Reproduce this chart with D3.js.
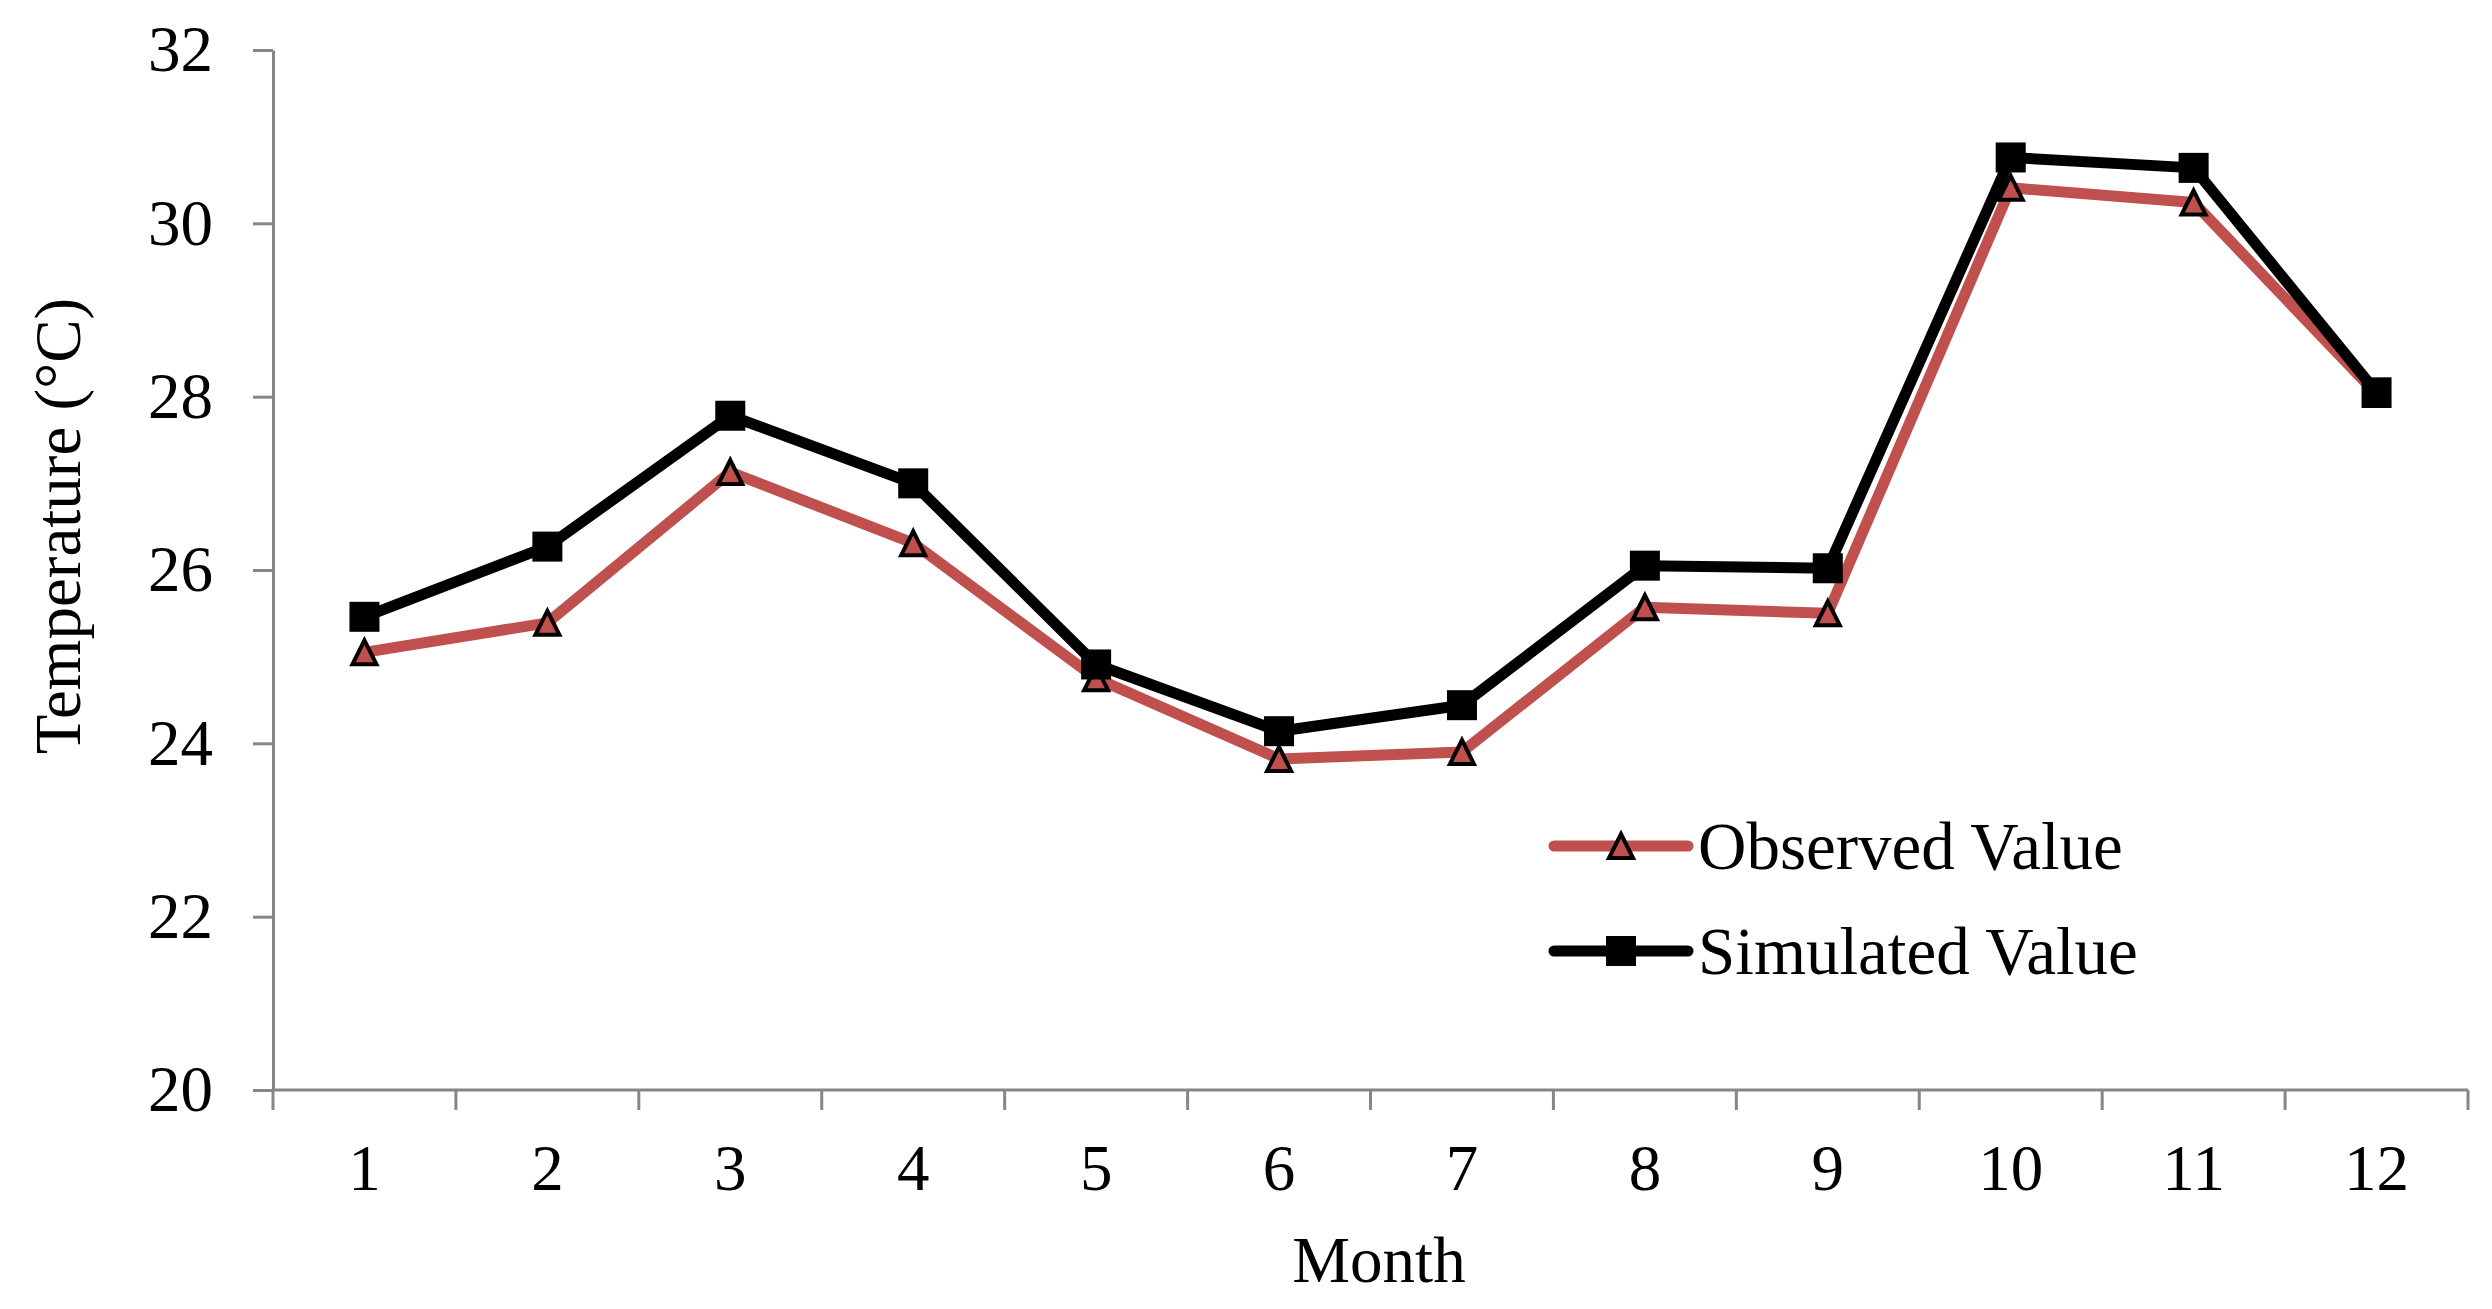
<!DOCTYPE html>
<html>
<head>
<meta charset="utf-8">
<script src="https://cdn.jsdelivr.net/npm/d3@7"></script>
<style>
  body { margin: 0; background: #fff; }
  text { font-family: "Liberation Serif", "Times New Roman", serif; fill: #000; }
</style>
</head>
<body>
<script>
var months = ["1","2","3","4","5","6","7","8","9","10","11","12"];
var observed  = [25.05, 25.39, 27.13, 26.31, 24.75, 23.82, 23.9, 25.57, 25.5, 30.41, 30.24, 28.03];
var simulated = [25.46, 26.27, 27.78, 27.0, 24.91, 24.14, 24.44, 26.05, 26.02, 30.76, 30.64, 28.05];
var yTicks = [20, 22, 24, 26, 28, 30, 32];
var seriesNames = ["Observed Value", "Simulated Value"];

var width = 2492, height = 1309;
var axisColor = "#868686";
var red = "#C0504D";

var svg = d3.select("body").append("svg")
    .attr("width", width)
    .attr("height", height);

var x = d3.scaleBand().domain(months).range([273, 2468]);
var y = d3.scaleLinear().domain([20, 32]).range([1090, 50]);

// y axis
var yAxis = svg.append("g")
    .attr("transform", "translate(273,0)")
    .call(d3.axisLeft(y).tickValues(yTicks).tickSize(20).tickSizeOuter(0).tickPadding(40));
yAxis.selectAll("path, line").attr("stroke", axisColor).attr("stroke-width", 3);
yAxis.selectAll("text").attr("font-size", 65).attr("font-family", "Liberation Serif");

// x axis labels
var xAxis = svg.append("g")
    .attr("transform", "translate(0,1090)")
    .call(d3.axisBottom(x).tickSize(0).tickPadding(54));
xAxis.select(".domain").remove();
xAxis.selectAll("text").attr("font-size", 65).attr("font-family", "Liberation Serif");

// x axis line and tick marks at band edges
svg.append("line")
    .attr("x1", x.range()[0]).attr("x2", x.range()[1])
    .attr("y1", y(20)).attr("y2", y(20))
    .attr("stroke", axisColor).attr("stroke-width", 3);

var edges = months.map(function(d){ return x(d); }).concat([x.range()[1]]);
svg.selectAll(".xtick").data(edges).enter().append("line")
    .attr("class", "xtick")
    .attr("x1", function(d){ return d; }).attr("x2", function(d){ return d; })
    .attr("y1", y(20)).attr("y2", y(20) + 20)
    .attr("stroke", axisColor).attr("stroke-width", 3);

// axis titles
svg.append("text")
    .attr("x", 1379).attr("y", 1282)
    .attr("text-anchor", "middle")
    .attr("font-size", 65)
    .text("Month");

svg.append("text")
    .attr("transform", "translate(80,526) rotate(-90)")
    .attr("text-anchor", "middle")
    .attr("font-size", 65)
    .text("Temperature (°C)");

var line = d3.line()
    .x(function(d, i){ return x(months[i]) + x.bandwidth() / 2; })
    .y(function(d){ return y(d); });

var triPath = "M0,-12L12,12L-12,12Z";

// observed series
svg.append("path")
    .attr("d", line(observed))
    .attr("fill", "none")
    .attr("stroke", red)
    .attr("stroke-width", 11)
    .attr("stroke-linejoin", "round");

svg.selectAll(".tri").data(observed).enter().append("path")
    .attr("class", "tri")
    .attr("d", triPath)
    .attr("transform", function(d, i){ return "translate(" + (x(months[i]) + x.bandwidth() / 2) + "," + y(d) + ")"; })
    .attr("fill", red)
    .attr("stroke", "#000")
    .attr("stroke-width", 4);

// simulated series
svg.append("path")
    .attr("d", line(simulated))
    .attr("fill", "none")
    .attr("stroke", "#000")
    .attr("stroke-width", 11)
    .attr("stroke-linejoin", "round");

svg.selectAll(".sq").data(simulated).enter().append("rect")
    .attr("class", "sq")
    .attr("x", function(d, i){ return x(months[i]) + x.bandwidth() / 2 - 15; })
    .attr("y", function(d){ return y(d) - 15; })
    .attr("width", 30).attr("height", 30)
    .attr("fill", "#000");

// legend
var legendY = [846, 951];
var legend = svg.selectAll(".legend").data(seriesNames).enter().append("g")
    .attr("class", "legend")
    .attr("transform", function(d, i){ return "translate(0," + legendY[i] + ")"; });

legend.append("line")
    .attr("x1", 1554).attr("x2", 1688)
    .attr("stroke", function(d, i){ return i == 0 ? red : "#000"; })
    .attr("stroke-width", 11)
    .attr("stroke-linecap", "round");

legend.filter(function(d, i){ return i == 0; }).append("path")
    .attr("d", triPath)
    .attr("transform", "translate(1621,0)")
    .attr("fill", red)
    .attr("stroke", "#000")
    .attr("stroke-width", 4);

legend.filter(function(d, i){ return i == 1; }).append("rect")
    .attr("x", 1606).attr("y", -15)
    .attr("width", 30).attr("height", 30)
    .attr("fill", "#000");

legend.append("text")
    .attr("x", 1698)
    .attr("dy", "0.35em")
    .attr("font-size", 67)
    .text(function(d){ return d; });
</script>
</body>
</html>
